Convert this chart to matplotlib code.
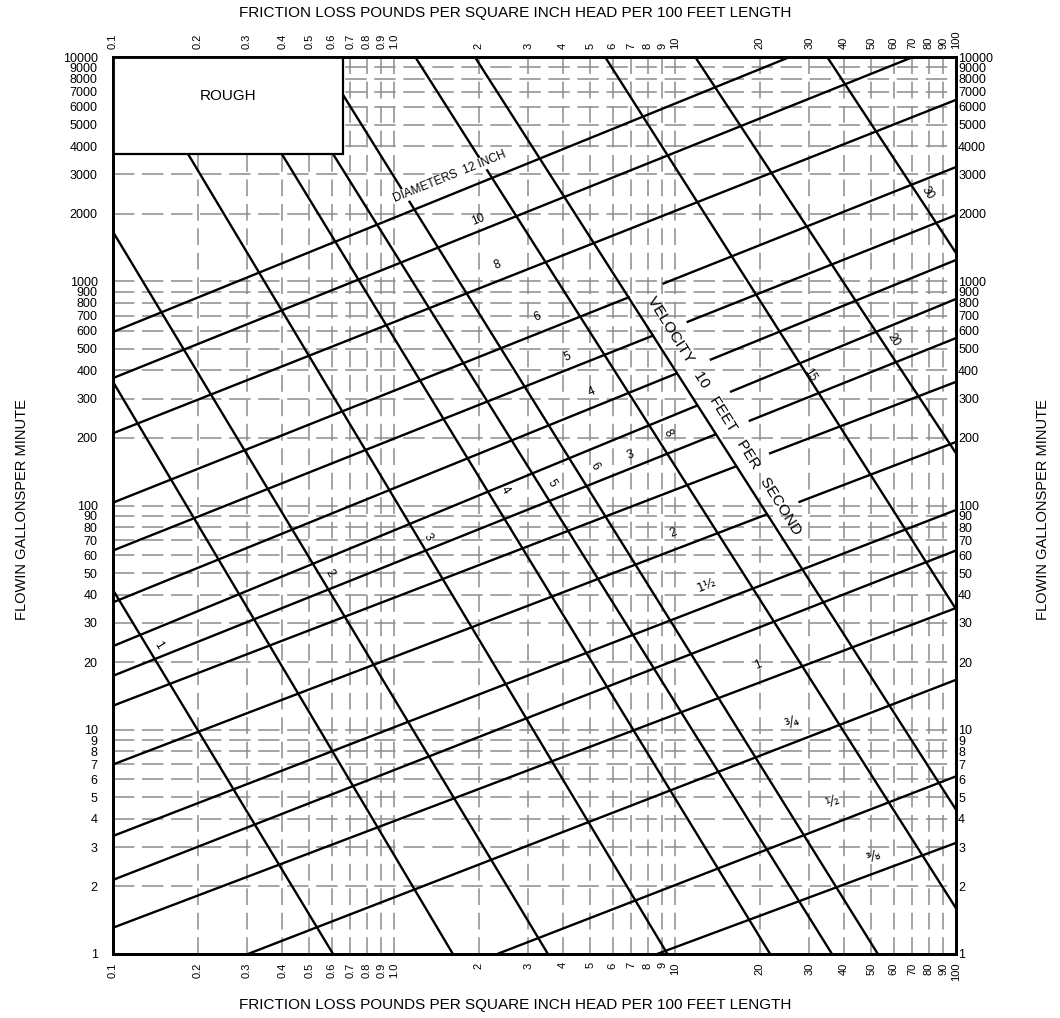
import matplotlib
matplotlib.use('Agg')
import matplotlib.pyplot as plt
from matplotlib.patches import Rectangle
from matplotlib.ticker import NullLocator
import numpy as np

plt.rcParams['font.family'] = ['Liberation Sans', 'DejaVu Sans']

# ---------------- data ----------------
friction_ticks = [0.1, 0.2, 0.3, 0.4, 0.5, 0.6, 0.7, 0.8, 0.9, 1.0,
                  2, 3, 4, 5, 6, 7, 8, 9, 10,
                  20, 30, 40, 50, 60, 70, 80, 90, 100]
friction_labels = ['0.1', '0.2', '0.3', '0.4', '0.5', '0.6', '0.7', '0.8', '0.9', '1.0',
                   '2', '3', '4', '5', '6', '7', '8', '9', '10',
                   '20', '30', '40', '50', '60', '70', '80', '90', '100']
flow_ticks = [1, 2, 3, 4, 5, 6, 7, 8, 9, 10,
              20, 30, 40, 50, 60, 70, 80, 90, 100,
              200, 300, 400, 500, 600, 700, 800, 900, 1000,
              2000, 3000, 4000, 5000, 6000, 7000, 8000, 9000, 10000]
flow_labels = [str(v) for v in flow_ticks]

# velocity lines (ft/s): start and end points (friction psi, flow gpm)
velocity_names = ['1', '1.5', '2', '3', '4', '5', '6', '8', '10', '15', '20', '30']
velocity_start = [(0.1, 42), (0.1, 356), (0.1, 1660), (0.185, 3690), (0.399, 3690),
                  (0.607, 3690), (0.659, 6770), (1.19, 10000), (1.94, 10000),
                  (5.64, 10000), (11.8, 10000), (34.8, 10000)]
velocity_end = [(0.607, 1), (1.62, 1), (3.53, 1), (9.4, 1), (21.8, 1), (36.2, 1),
                (52.7, 1), (100, 1.6), (100, 4.4), (100, 34.5), (100, 171), (100, 1336)]

# diameter lines (inch): start, end, and gap (friction range) left for the velocity caption
diameter_names = ['3/8', '1/2', '3/4', '1', '1 1/4', '1 1/2', '2', '2 1/2', '3', '3 1/2',
                  '4', '5', '6', '8', '10', '12']
diameter_start = [(8.63, 1), (2.33, 1), (0.302, 1), (0.1, 1.31), (0.1, 2.14), (0.1, 3.36),
                  (0.1, 7.0), (0.1, 12.8), (0.1, 17.4), (0.1, 23.6), (0.1, 37), (0.1, 63),
                  (0.1, 103), (0.1, 210), (0.1, 370), (0.1, 594)]
diameter_end = [(100, 3.13), (100, 6.2), (100, 16.7), (100, 34.9), (100, 63), (100, 95.5),
                (100, 192), (100, 356), (100, 558), (100, 834), (100, 1244), (100, 1974),
                (100, 3230), (100, 6440), (70.3, 10000), (25.6, 10000)]
diameter_gap = [None, None, None, None, None, None,
                (21.2, 27.5), (16.5, 21.6), (14.0, 18.3), (12.1, 15.7), (10.2, 13.3),
                (8.42, 11.0), (6.91, 9.03), None, None, None]

# labels along lines: (text, friction, flow)
velocity_labels = [('1', 0.1445, 23.9), ('2', 0.591, 50), ('3', 1.32, 72.4),
                   ('4', 2.48, 117), ('5', 3.65, 126), ('6', 5.19, 149),
                   ('8', 9.44, 210), ('15', 30.2, 382), ('20', 59.7, 547),
                   ('30', 78.9, 2475)]
diameter_labels = [('⅜', 50.7, 2.71), ('½', 36.2, 4.76), ('¾', 26.1, 10.7),
                   ('1', 19.7, 19.4), ('1½', 13.0, 44.2), ('2', 9.84, 75.4),
                   ('3', 6.92, 168), ('4', 5.07, 321), ('5', 4.13, 459),
                   ('6', 3.23, 692), ('8', 2.34, 1181), ('10', 1.99, 1875)]
diam_caption = ('DIAMETERS  12 INCH', 1.58, 2917)
vel_caption = ('VELOCITY   10   FEET   PER   SECOND', 14.9, 251)
box_corner = (0.659, 3690)

# ---------------- figure ----------------
W, H = 1060, 1018
fig = plt.figure(figsize=(W / 100, H / 100), dpi=100)
L, R, T, B = 113, 956, 57, 954
ax = fig.add_axes([L / W, 1 - B / H, (R - L) / W, (B - T) / H])
ax.set_xscale('log')
ax.set_yscale('log')
ax.set_xlim(0.1, 100)
ax.set_ylim(1, 10000)

# grid
for v in friction_ticks[1:-1]:
    ax.axvline(v, color='#8c8c8c', lw=1.1, dashes=(11, 5), zorder=1)
for v in flow_ticks[1:-1]:
    ax.axhline(v, color='#8c8c8c', lw=1.1, dashes=(14, 5), zorder=1)

def logpt(x0, y0, x1, y1, xq):
    lx0, lx1 = np.log10(x0), np.log10(x1)
    ly0, ly1 = np.log10(y0), np.log10(y1)
    t = (np.log10(xq) - lx0) / (lx1 - lx0)
    return 10 ** (ly0 + t * (ly1 - ly0))

lw = 1.7
for (x0, y0), (x1, y1) in zip(velocity_start, velocity_end):
    ax.plot([x0, x1], [y0, y1], color='black', lw=lw, zorder=3, solid_capstyle='butt')

for (x0, y0), (x1, y1), gap in zip(diameter_start, diameter_end, diameter_gap):
    if gap is None:
        ax.plot([x0, x1], [y0, y1], color='black', lw=lw, zorder=3, solid_capstyle='butt')
    else:
        ga, gb = gap
        ya = logpt(x0, y0, x1, y1, ga)
        yb = logpt(x0, y0, x1, y1, gb)
        ax.plot([x0, ga], [y0, ya], color='black', lw=lw, zorder=3, solid_capstyle='butt')
        ax.plot([gb, x1], [yb, y1], color='black', lw=lw, zorder=3, solid_capstyle='butt')

# ROUGH box
bx, by = box_corner
ax.add_patch(Rectangle((0.1, by), bx - 0.1, 10000 - by, facecolor='white',
                       edgecolor='black', lw=1.6, zorder=5))
ax.text(np.sqrt(0.1 * bx) * 1.0, np.sqrt(by * 10000) * 1.1, 'ROUGH', fontsize=11,
        ha='center', va='center', zorder=6)

for txt, x, y in velocity_labels:
    ax.text(x, y, txt, fontsize=8.5, rotation=-58, ha='center', va='center', zorder=6,
            rotation_mode='anchor')
for txt, x, y in diameter_labels:
    has_frac = any(c in txt for c in '⅜½¾')
    if has_frac:
        fs = 9 if len(txt) > 1 else 10
        ax.text(x, y, txt, fontsize=fs, rotation=22, ha='center', va='center', zorder=6,
                rotation_mode='anchor', family=['DejaVu Sans'])
    else:
        ax.text(x, y, txt, fontsize=8.5, rotation=22, ha='center', va='center', zorder=6,
                rotation_mode='anchor')
ax.text(diam_caption[1], diam_caption[2], diam_caption[0], fontsize=8.5, rotation=22,
        ha='center', va='center', zorder=6, rotation_mode='anchor',
        bbox=dict(facecolor='white', edgecolor='none', pad=0.5))
ax.text(vel_caption[1], vel_caption[2], vel_caption[0], fontsize=11, rotation=-58,
        ha='center', va='center', zorder=6, rotation_mode='anchor')

# ticks
ax.xaxis.set_minor_locator(NullLocator())
ax.yaxis.set_minor_locator(NullLocator())
ax.set_xticks(friction_ticks)
ax.set_xticklabels(friction_labels)
ax.set_yticks(flow_ticks)
ax.set_yticklabels(flow_labels)
ax.tick_params(axis='x', which='both', length=0, pad=6, labelsize=8, labelrotation=90,
               labeltop=True, labelbottom=True)
ax.tick_params(axis='y', which='both', length=0, pad=11, labelsize=9,
               labelleft=True, labelright=False)
ax2 = ax.twinx()
ax2.set_yscale('log')
ax2.set_ylim(1, 10000)
ax2.yaxis.set_minor_locator(NullLocator())
ax2.set_yticks(flow_ticks)
ax2.set_yticklabels(flow_labels)
ax2.tick_params(axis='y', which='both', length=0, pad=1.5, labelsize=9)
for a in (ax, ax2):
    for s in a.spines.values():
        s.set_linewidth(2.0)
        s.set_color('black')

title = 'FRICTION LOSS POUNDS PER SQUARE INCH HEAD PER 100 FEET LENGTH'
fig.text(515 / W, 1 - 13 / H, title, fontsize=11, ha='center', va='center')
fig.text(515 / W, 1 - 1005 / H, title, fontsize=11, ha='center', va='center')
fig.text(22 / W, 1 - 510 / H, 'FLOWIN GALLONSPER MINUTE', fontsize=10.5, rotation=90,
         ha='center', va='center')
fig.text(1043 / W, 1 - 510 / H, 'FLOWIN GALLONSPER MINUTE', fontsize=10.5, rotation=90,
         ha='center', va='center')

fig.savefig('out.png', dpi=100, facecolor='white')
